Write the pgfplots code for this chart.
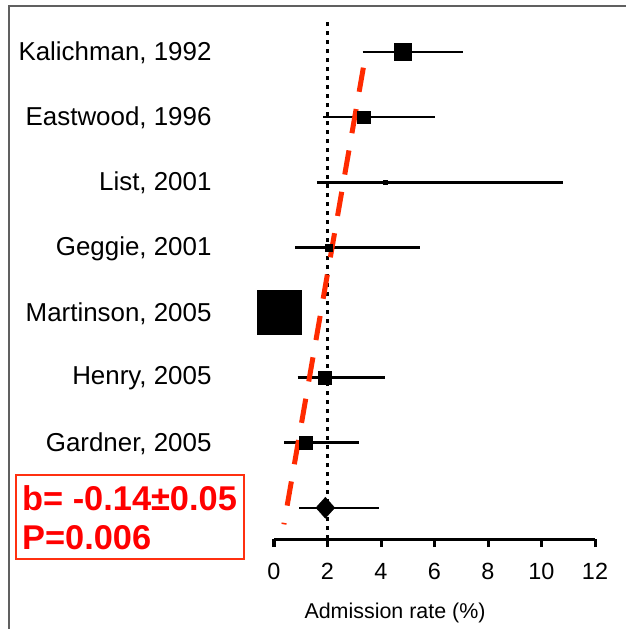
\documentclass[border=0pt]{standalone}
\usepackage{fontspec}
\setmainfont{Liberation Sans}
\usepackage{pgfplots}
\pgfplotsset{compat=1.18}

\definecolor{fitred}{HTML}{FF2A00}
\definecolor{boxred}{HTML}{FF3010}
\definecolor{txtred}{HTML}{FF0000}
\definecolor{frame}{HTML}{606060}

\begin{document}
\begin{tikzpicture}
\path[use as bounding box] (0,0) rectangle (626bp,-629bp);
\draw[frame, line width=1.5bp] (9bp,-629bp) -- (9bp,-6bp) -- (626bp,-6bp);

\begin{axis}[
  at={(274bp,-539bp)}, anchor=south west,
  scale only axis, width=321bp, height=519.5bp,
  xmin=0, xmax=12, ymin=0.52, ymax=8.5,
  clip=false,
  axis x line*=bottom, axis y line*=left,
  y axis line style={draw=none},
  x axis line style={line width=3bp},
  tick align=outside, major tick length=8bp,
  xtick={0,2,...,12},
  xtick style={line width=3bp, black},
  /pgf/number format/assume math mode=true,
  xticklabel style={font=\fontsize{23.5}{28}\selectfont, yshift=-13bp},
  ytick={2,...,8},
  yticklabels={{Gardner, 2005},{Henry, 2005},{Martinson, 2005},{Geggie, 2001},{List, 2001},{Eastwood, 1996},{Kalichman, 1992}},
  ytick style={draw=none},
  yticklabel style={font=\fontsize{26}{30}\selectfont, anchor=east, xshift=-51bp, yshift=-1bp},
  xlabel={Admission rate (\%)},
  xlabel style={font=\fontsize{21.5}{25}\selectfont, at={(axis description cs:0.377,0)}, anchor=base, yshift=-79bp},
]
% line of no difference
\addplot[black, line width=2.5bp, dash pattern=on 4bp off 5bp] coordinates {(2,0.52) (2,8.5)};

% confidence intervals
\addplot[black, line width=2.5bp] coordinates {(3.31,8) (7.08,8)};
\addplot[black, line width=2.5bp] coordinates {(1.84,7) (6.02,7)};
\addplot[black, line width=2.5bp] coordinates {(1.60,6) (10.80,6)};
\addplot[black, line width=2.5bp] coordinates {(0.79,5) (5.46,5)};
\addplot[black, line width=2.5bp] coordinates {(0.05,4) (0.40,4)};
\addplot[black, line width=2.5bp] coordinates {(0.88,3) (4.15,3)};
\addplot[black, line width=2.5bp] coordinates {(0.39,2) (3.19,2)};
\addplot[black, line width=2.5bp] coordinates {(0.95,1) (3.91,1)};

% study estimates, square size ~ weight
\addplot[only marks, mark=square*, mark size=8.5bp, mark options={draw=none, fill=black}] coordinates {(4.82,8)};
\addplot[only marks, mark=square*, mark size=6.3bp, mark options={draw=none, fill=black}] coordinates {(3.36,7)};
\addplot[only marks, mark=square*, mark size=2bp, mark options={draw=none, fill=black}] coordinates {(4.17,6)};
\addplot[only marks, mark=square*, mark size=3.5bp, mark options={draw=none, fill=black}] coordinates {(2.03,5)};
\addplot[only marks, mark=square*, mark size=22bp, mark options={draw=none, fill=black}] coordinates {(0.21,4)};
\addplot[only marks, mark=square*, mark size=6.5bp, mark options={draw=none, fill=black}] coordinates {(1.91,3)};
\addplot[only marks, mark=square*, mark size=6.5bp, mark options={draw=none, fill=black}] coordinates {(1.18,2)};
% pooled estimate
\addplot[only marks, mark=diamond*, mark size=10.5bp, mark options={draw=none, fill=black, xscale=1.2}] coordinates {(1.92,1)};

% meta-regression line
\addplot[fitred, line width=5bp, dash pattern=on 24.5bp off 17.5bp] coordinates {(3.34,7.76) (0.37,0.745)};
\end{axis}

\draw[boxred, line width=1.5bp] (16bp,-475bp) rectangle (244bp,-559bp);
\node[anchor=base west, inner sep=0pt, text=txtred, font=\fontsize{34.5}{40}\selectfont\bfseries] at (22bp,-510bp) {b= -0.14±0.05};
\node[anchor=base west, inner sep=0pt, text=txtred, font=\fontsize{34.5}{40}\selectfont\bfseries] at (22bp,-549bp) {P=0.006};
\end{tikzpicture}
\end{document}
